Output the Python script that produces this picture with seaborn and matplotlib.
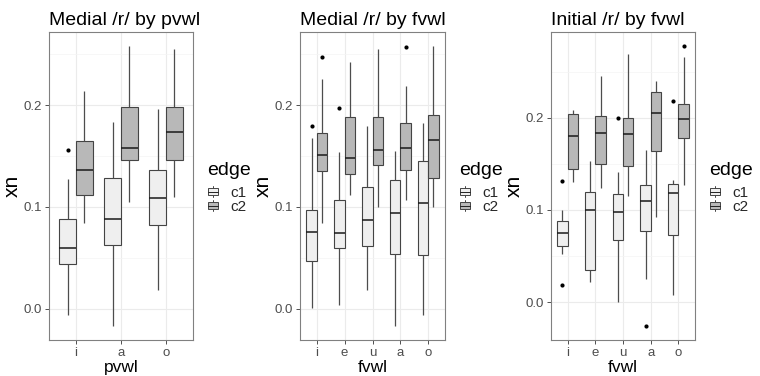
import numpy as np
import pandas as pd
import matplotlib
matplotlib.use("Agg")
import matplotlib.pyplot as plt
import seaborn as sns
from matplotlib.legend_handler import HandlerBase
from matplotlib.patches import Rectangle, Patch
from matplotlib.lines import Line2D
from matplotlib.ticker import FixedLocator

# ---------------- data ----------------
titles = ["Medial /r/ by pvwl", "Medial /r/ by fvwl", "Initial /r/ by fvwl"]
xlabels = ["pvwl", "fvwl", "fvwl"]
ylabel = "xn"
legend_title = "edge"
edges = ["c1", "c2"]

cats_p1 = ["i", "a", "o"]
cats_p2 = ["i", "e", "u", "a", "o"]
cats_p3 = ["i", "e", "u", "a", "o"]

# each inner list: observations whose box summary matches the picture
p1_c1 = [[-0.006, 0.044, 0.044, 0.060, 0.060, 0.088, 0.088, 0.127, 0.156],
         [-0.017, 0.063, 0.088, 0.128, 0.183],
         [0.018, 0.082, 0.109, 0.136, 0.196]]
p1_c2 = [[0.084, 0.112, 0.136, 0.165, 0.214],
         [0.105, 0.146, 0.158, 0.198, 0.258],
         [0.110, 0.146, 0.174, 0.198, 0.255]]

p2_c1 = [[0.001, 0.047, 0.047, 0.075, 0.075, 0.097, 0.097, 0.168, 0.179],
         [0.004, 0.060, 0.060, 0.074, 0.074, 0.107, 0.107, 0.154, 0.197],
         [0.018, 0.062, 0.087, 0.120, 0.179],
         [-0.017, 0.054, 0.094, 0.126, 0.155],
         [-0.006, 0.053, 0.104, 0.145, 0.182]]
p2_c2 = [[0.084, 0.135, 0.135, 0.151, 0.151, 0.173, 0.173, 0.226, 0.247],
         [0.112, 0.132, 0.148, 0.188, 0.242],
         [0.100, 0.141, 0.156, 0.188, 0.255],
         [0.107, 0.136, 0.136, 0.158, 0.158, 0.182, 0.182, 0.219, 0.257],
         [0.100, 0.128, 0.166, 0.190, 0.258]]

p3_c1 = [[0.019, 0.052, 0.061, 0.075, 0.075, 0.088, 0.088, 0.100, 0.131],
         [0.022, 0.035, 0.100, 0.119, 0.153],
         [0.000, 0.067, 0.067, 0.098, 0.098, 0.117, 0.117, 0.141, 0.200],
         [-0.026, 0.025, 0.077, 0.077, 0.110, 0.127, 0.127, 0.165, 0.165],
         [0.008, 0.073, 0.073, 0.118, 0.118, 0.128, 0.128, 0.133, 0.218]]
p3_c2 = [[0.130, 0.145, 0.180, 0.204, 0.209],
         [0.124, 0.150, 0.184, 0.202, 0.245],
         [0.115, 0.148, 0.183, 0.200, 0.269],
         [0.092, 0.164, 0.205, 0.228, 0.240],
         [0.127, 0.178, 0.178, 0.199, 0.199, 0.215, 0.215, 0.266, 0.278]]

yticks = [0.0, 0.1, 0.2]
ytick_labels = ["0.0", "0.1", "0.2"]
yminor = [-0.05, 0.05, 0.15, 0.25]

panels = [(cats_p1, p1_c1, p1_c2), (cats_p2, p2_c1, p2_c2), (cats_p3, p3_c1, p3_c2)]

# ---------------- style ----------------
sns.set_theme(style="white")
plt.rcParams["font.family"] = ["Liberation Sans", "DejaVu Sans"]

fill = {"c1": "#EFEFEF", "c2": "#B8B8B8"}
box_edge = "#444444"
grid_major = "#EBEBEB"
grid_minor = "#F4F4F4"
border = "#808080"
tick_col = "#4D4D4D"


class BoxKey(HandlerBase):
    def create_artists(self, legend, orig, xd, yd, w, h, fs, trans):
        x0, y0 = -xd, -yd
        bw, bh = w * 0.9, h * 0.62
        bx = x0 + (w - bw) / 2
        by = y0 + (h - bh) / 2
        cx = x0 + w / 2
        rect = Rectangle((bx, by), bw, bh, facecolor=orig.get_facecolor(),
                         edgecolor=box_edge, lw=0.7, transform=trans)
        med = Line2D([bx, bx + bw], [y0 + h / 2] * 2, color="#222222", lw=0.7, transform=trans)
        wt = Line2D([cx, cx], [by + bh, y0 + h], color=box_edge, lw=0.7, transform=trans)
        wb = Line2D([cx, cx], [y0, by], color=box_edge, lw=0.7, transform=trans)
        return [rect, med, wt, wb]


fig = plt.figure(figsize=(7.6, 3.76), dpi=100)
W, H = 760.0, 376.0
lefts = [49, 300, 551]
widths = [144, 145, 144]
top_px, bot_px = 32, 340

for k, (cats, c1, c2) in enumerate(panels):
    ax = fig.add_axes([lefts[k] / W, (H - bot_px) / H, widths[k] / W, (bot_px - top_px) / H])
    rows = []
    for cat, vals in zip(cats, c1):
        rows += [(cat, "c1", v) for v in vals]
    for cat, vals in zip(cats, c2):
        rows += [(cat, "c2", v) for v in vals]
    df = pd.DataFrame(rows, columns=["vwl", "edge", "xn"])

    sns.boxplot(data=df, x="vwl", y="xn", hue="edge", order=cats, hue_order=edges,
                palette=fill, linecolor=box_edge, linewidth=0.8, width=0.75, gap=0,
                whis=1.5, showcaps=False, legend=False, ax=ax,
                medianprops=dict(color="#1A1A1A", linewidth=1.1),
                whiskerprops=dict(color="#4D4D4D", linewidth=0.9),
                flierprops=dict(marker="o", markersize=3.0, markerfacecolor="black",
                                markeredgecolor="black", markeredgewidth=0))

    allv = df["xn"].to_numpy()
    lo, hi = allv.min(), allv.max()
    pad = (hi - lo) * 0.05
    ax.set_ylim(lo - pad, hi + pad)
    ax.set_xlim(-0.6, len(cats) - 0.4)

    ax.set_yticks(yticks)
    ax.set_yticklabels(ytick_labels)
    ax.yaxis.set_minor_locator(FixedLocator(yminor))
    ax.set_axisbelow(True)
    ax.grid(True, which="major", axis="both", color=grid_major, linewidth=0.8)
    ax.grid(True, which="minor", axis="y", color=grid_minor, linewidth=0.5)
    ax.tick_params(axis="both", which="major", length=3, width=0.6, color="#333333",
                   labelcolor=tick_col, labelsize=9.5, pad=2, left=True, bottom=True)
    ax.tick_params(axis="y", which="minor", length=0)
    for sp in ax.spines.values():
        sp.set_color(border)
        sp.set_linewidth(0.8)

    ax.set_title(titles[k], loc="left", fontsize=14, pad=5, color="black")
    ax.set_xlabel(xlabels[k], fontsize=12.5, labelpad=0.5, color="black")
    ax.set_ylabel(ylabel, fontsize=15, labelpad=1, color="black")

    # legend: title as text, entries as a legend with box-glyph keys
    lx = (lefts[k] + widths[k] + 14) / W
    fig.text(lx, 1 - 175 / H, legend_title, fontsize=14, color="black",
             ha="left", va="baseline")
    handles = [Patch(facecolor=fill[e]) for e in edges]
    ax.legend(handles=handles, labels=edges,
              handler_map={Patch: BoxKey()}, loc="upper left",
              bbox_to_anchor=(lx, 1 - 186 / H), bbox_transform=fig.transFigure,
              frameon=False, fontsize=11, handlelength=0.75, handleheight=0.75,
              handletextpad=0.75, labelspacing=0.0, borderpad=0, borderaxespad=0)

fig.savefig("out.png", dpi=100)
